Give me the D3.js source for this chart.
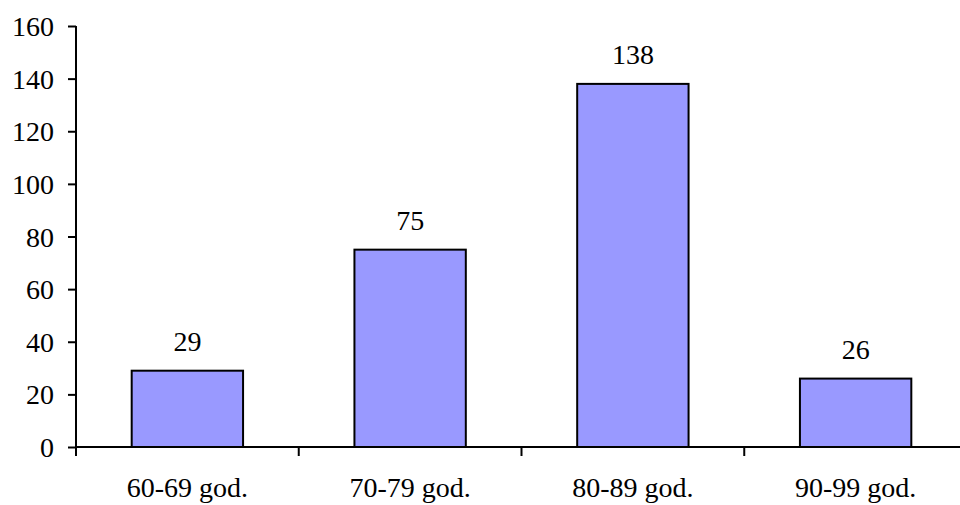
<!DOCTYPE html>
<html>
<head>
<meta charset="utf-8">
<script src="https://cdn.jsdelivr.net/npm/d3@7"></script>
<style>
  html, body { margin: 0; padding: 0; background: #fff; }
  svg text { font-family: "Liberation Serif", "Times New Roman", serif; fill: #000; }
</style>
</head>
<body>
<svg id="chart" width="960" height="505"></svg>
<script>
// Counts per decade
const categories = ["60-69 god.", "70-79 god.", "80-89 god.", "90-99 god."];
const values = [29, 75, 138, 26];
const yTicks = [0, 20, 40, 60, 80, 100, 120, 140, 160];

const svg = d3.select("#chart");
const fontSize = 28;

const x = d3.scaleBand()
  .domain(categories)
  .range([76, 967])
  .paddingInner(0.5)
  .paddingOuter(0.25);

const y = d3.scaleLinear()
  .domain([0, 160])
  .range([447, 26]);

// Bars
svg.append("g").selectAll("rect")
  .data(values)
  .join("rect")
  .attr("x", (d, i) => x(categories[i]))
  .attr("y", d => y(d))
  .attr("width", x.bandwidth())
  .attr("height", d => y(0) - y(d))
  .attr("fill", "#9999ff")
  .attr("stroke", "#000")
  .attr("stroke-width", 2);

// Value labels above bars
svg.append("g").selectAll("text")
  .data(values)
  .join("text")
  .attr("x", (d, i) => x(categories[i]) + x.bandwidth() / 2)
  .attr("y", d => y(d) - 20)
  .attr("text-anchor", "middle")
  .style("font-size", fontSize + "px")
  .text(d => d);

// Y axis
const yAxis = svg.append("g")
  .attr("transform", "translate(76,0)")
  .call(d3.axisLeft(y).tickValues(yTicks).tickSize(8).tickPadding(14).tickFormat(d3.format("d")));
yAxis.attr("font-family", null);
yAxis.select(".domain").attr("stroke-width", 2).attr("d", "M0,26V447");
yAxis.selectAll(".tick line").attr("stroke-width", 2);
yAxis.selectAll(".tick text").style("font-size", fontSize + "px")
  .attr("dy", "0.34em");

// X axis with ticks at band boundaries
const bounds = categories.map(c => x(c) - x.step() * x.paddingInner() / 2);
const xAxis = svg.append("g").attr("transform", "translate(0,447)");
xAxis.append("line")
  .attr("x1", 76).attr("x2", 967)
  .attr("stroke", "#000").attr("stroke-width", 2);
xAxis.selectAll("line.tick")
  .data(bounds.concat([bounds[bounds.length - 1] + x.step()]))
  .join("line")
  .attr("class", "tick")
  .attr("x1", d => d).attr("x2", d => d)
  .attr("y1", 0).attr("y2", 9)
  .attr("stroke", "#000").attr("stroke-width", 2);
xAxis.selectAll("text")
  .data(categories)
  .join("text")
  .attr("x", d => x(d) + x.bandwidth() / 2)
  .attr("y", 50)
  .attr("text-anchor", "middle")
  .style("font-size", fontSize + "px")
  .text(d => d);
</script>
</body>
</html>
